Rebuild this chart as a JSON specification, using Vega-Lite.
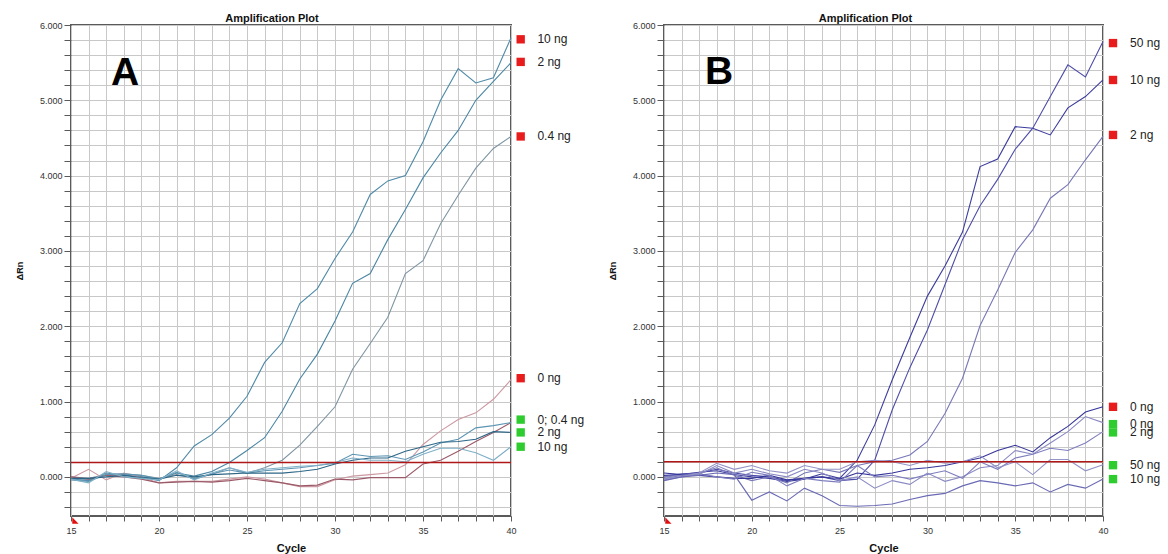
{
  "$schema": "https://vega.github.io/schema/vega-lite/v6.json",
  "background": "white",
  "padding": {"left": 14, "top": 12, "right": 0, "bottom": 0},
  "bounds": "flush",
  "spacing": 153,
  "config": {
    "font": "Liberation Sans",
    "view": {"stroke": "#5a5a5a", "strokeWidth": 2},
    "axis": {
      "domain": false,
      "grid": true,
      "gridColor": "#c8c8c8",
      "gridWidth": 1,
      "tickColor": "#5a5a5a",
      "tickCount": 200,
      "labelFont": "Liberation Sans",
      "labelFontSize": 9,
      "labelColor": "#333333",
      "titleFont": "Liberation Sans",
      "titleFontSize": 11,
      "titleFontWeight": "bold",
      "titleColor": "#111111"
    },
    "title": {"font": "Liberation Sans", "fontSize": 11, "fontWeight": "bold", "color": "#111111", "offset": -3}
  },
  "datasets": {
    "ampA": [
      {"cycle": 15, "A10": -0.03, "A2": -0.02, "A04": 0.0, "A0r": -0.02, "A0g": 0.0, "A04g": -0.04, "A2g": -0.02, "A10g": -0.03},
      {"cycle": 16, "A10": -0.05, "A2": -0.03, "A04": -0.02, "A0r": 0.1, "A0g": -0.03, "A04g": -0.06, "A2g": -0.02, "A10g": -0.08},
      {"cycle": 17, "A10": 0.05, "A2": 0.02, "A04": 0.03, "A0r": -0.04, "A0g": 0.02, "A04g": 0.03, "A2g": 0.0, "A10g": 0.07},
      {"cycle": 18, "A10": 0.02, "A2": 0.03, "A04": 0.04, "A0r": 0.05, "A0g": 0.0, "A04g": 0.04, "A2g": 0.02, "A10g": 0.0},
      {"cycle": 19, "A10": 0.0, "A2": 0.0, "A04": 0.02, "A0r": -0.01, "A0g": -0.03, "A04g": 0.02, "A2g": -0.01, "A10g": -0.02},
      {"cycle": 20, "A10": -0.05, "A2": -0.03, "A04": -0.02, "A0r": -0.08, "A0g": -0.08, "A04g": -0.03, "A2g": -0.03, "A10g": -0.04},
      {"cycle": 21, "A10": 0.12, "A2": 0.05, "A04": 0.03, "A0r": -0.06, "A0g": -0.07, "A04g": 0.06, "A2g": 0.02, "A10g": 0.08},
      {"cycle": 22, "A10": 0.41, "A2": 0.01, "A04": -0.02, "A0r": -0.06, "A0g": -0.06, "A04g": -0.03, "A2g": 0.0, "A10g": -0.04},
      {"cycle": 23, "A10": 0.56, "A2": 0.07, "A04": 0.03, "A0r": -0.06, "A0g": -0.07, "A04g": 0.04, "A2g": 0.03, "A10g": 0.05},
      {"cycle": 24, "A10": 0.78, "A2": 0.19, "A04": 0.12, "A0r": -0.03, "A0g": -0.05, "A04g": 0.09, "A2g": 0.04, "A10g": 0.12},
      {"cycle": 25, "A10": 1.07, "A2": 0.35, "A04": 0.05, "A0r": 0.0, "A0g": -0.02, "A04g": 0.05, "A2g": 0.05, "A10g": 0.06},
      {"cycle": 26, "A10": 1.52, "A2": 0.52, "A04": 0.12, "A0r": -0.03, "A0g": -0.05, "A04g": 0.08, "A2g": 0.05, "A10g": 0.1},
      {"cycle": 27, "A10": 1.78, "A2": 0.87, "A04": 0.22, "A0r": -0.08, "A0g": -0.08, "A04g": 0.1, "A2g": 0.05, "A10g": 0.12},
      {"cycle": 28, "A10": 2.3, "A2": 1.3, "A04": 0.42, "A0r": -0.13, "A0g": -0.12, "A04g": 0.12, "A2g": 0.07, "A10g": 0.14},
      {"cycle": 29, "A10": 2.5, "A2": 1.63, "A04": 0.67, "A0r": -0.13, "A0g": -0.11, "A04g": 0.15, "A2g": 0.1, "A10g": 0.15},
      {"cycle": 30, "A10": 2.9, "A2": 2.07, "A04": 0.93, "A0r": -0.04, "A0g": -0.03, "A04g": 0.18, "A2g": 0.17, "A10g": 0.19},
      {"cycle": 31, "A10": 3.25, "A2": 2.57, "A04": 1.43, "A0r": 0.01, "A0g": -0.04, "A04g": 0.3, "A2g": 0.22, "A10g": 0.25},
      {"cycle": 32, "A10": 3.75, "A2": 2.7, "A04": 1.77, "A0r": 0.03, "A0g": -0.01, "A04g": 0.27, "A2g": 0.25, "A10g": 0.22},
      {"cycle": 33, "A10": 3.93, "A2": 3.15, "A04": 2.12, "A0r": 0.05, "A0g": -0.01, "A04g": 0.28, "A2g": 0.25, "A10g": 0.22},
      {"cycle": 34, "A10": 4.0, "A2": 3.55, "A04": 2.7, "A0r": 0.16, "A0g": -0.01, "A04g": 0.23, "A2g": 0.34, "A10g": 0.2},
      {"cycle": 35, "A10": 4.45, "A2": 3.97, "A04": 2.87, "A0r": 0.43, "A0g": 0.17, "A04g": 0.33, "A2g": 0.4, "A10g": 0.3},
      {"cycle": 36, "A10": 5.0, "A2": 4.3, "A04": 3.36, "A0r": 0.61, "A0g": 0.22, "A04g": 0.45, "A2g": 0.46, "A10g": 0.38},
      {"cycle": 37, "A10": 5.42, "A2": 4.6, "A04": 3.74, "A0r": 0.76, "A0g": 0.34, "A04g": 0.5, "A2g": 0.47, "A10g": 0.38},
      {"cycle": 38, "A10": 5.23, "A2": 5.0, "A04": 4.1, "A0r": 0.85, "A0g": 0.47, "A04g": 0.65, "A2g": 0.5, "A10g": 0.32},
      {"cycle": 39, "A10": 5.3, "A2": 5.25, "A04": 4.36, "A0r": 1.03, "A0g": 0.59, "A04g": 0.68, "A2g": 0.6, "A10g": 0.22},
      {"cycle": 40, "A10": 5.83, "A2": 5.5, "A04": 4.52, "A0r": 1.29, "A0g": 0.72, "A04g": 0.72, "A2g": 0.59, "A10g": 0.4}
    ],
    "ampB": [
      {"cycle": 15, "B10": 0.02, "B50": 0.0, "B2": -0.03, "B0r": 0.05, "B0g": -0.02, "B2g": 0.0, "B50g": -0.04, "B10g": -0.05},
      {"cycle": 16, "B10": 0.03, "B50": 0.04, "B2": 0.02, "B0r": 0.03, "B0g": 0.0, "B2g": 0.02, "B50g": 0.0, "B10g": 0.0},
      {"cycle": 17, "B10": 0.06, "B50": 0.05, "B2": 0.05, "B0r": 0.02, "B0g": 0.03, "B2g": 0.04, "B50g": 0.05, "B10g": 0.02},
      {"cycle": 18, "B10": 0.08, "B50": 0.1, "B2": 0.12, "B0r": 0.0, "B0g": 0.15, "B2g": 0.0, "B50g": 0.18, "B10g": 0.05},
      {"cycle": 19, "B10": 0.03, "B50": 0.05, "B2": 0.02, "B0r": -0.02, "B0g": 0.05, "B2g": -0.03, "B50g": 0.1, "B10g": 0.03},
      {"cycle": 20, "B10": 0.0, "B50": 0.02, "B2": -0.05, "B0r": -0.02, "B0g": 0.1, "B2g": 0.06, "B50g": 0.15, "B10g": -0.31},
      {"cycle": 21, "B10": -0.02, "B50": 0.0, "B2": 0.0, "B0r": 0.02, "B0g": 0.04, "B2g": 0.02, "B50g": 0.08, "B10g": -0.2},
      {"cycle": 22, "B10": -0.06, "B50": -0.05, "B2": -0.08, "B0r": -0.04, "B0g": 0.0, "B2g": -0.12, "B50g": 0.05, "B10g": -0.32},
      {"cycle": 23, "B10": -0.03, "B50": -0.02, "B2": 0.05, "B0r": -0.02, "B0g": 0.1, "B2g": -0.02, "B50g": 0.15, "B10g": -0.15},
      {"cycle": 24, "B10": 0.04, "B50": 0.0, "B2": 0.1, "B0r": 0.0, "B0g": 0.05, "B2g": -0.05, "B50g": 0.1, "B10g": -0.25},
      {"cycle": 25, "B10": -0.02, "B50": -0.05, "B2": 0.06, "B0r": -0.03, "B0g": -0.05, "B2g": -0.07, "B50g": 0.1, "B10g": -0.38},
      {"cycle": 26, "B10": 0.22, "B50": -0.03, "B2": 0.15, "B0r": 0.05, "B0g": 0.0, "B2g": 0.15, "B50g": 0.2, "B10g": -0.39},
      {"cycle": 27, "B10": 0.69, "B50": 0.22, "B2": 0.2, "B0r": 0.02, "B0g": -0.15, "B2g": 0.0, "B50g": 0.22, "B10g": -0.38},
      {"cycle": 28, "B10": 1.29, "B50": 0.89, "B2": 0.22, "B0r": 0.05, "B0g": -0.05, "B2g": 0.02, "B50g": 0.2, "B10g": -0.36},
      {"cycle": 29, "B10": 1.85, "B50": 1.45, "B2": 0.29, "B0r": 0.1, "B0g": -0.1, "B2g": -0.03, "B50g": 0.15, "B10g": -0.3},
      {"cycle": 30, "B10": 2.4, "B50": 1.95, "B2": 0.47, "B0r": 0.12, "B0g": 0.05, "B2g": 0.03, "B50g": 0.22, "B10g": -0.25},
      {"cycle": 31, "B10": 2.8, "B50": 2.55, "B2": 0.84, "B0r": 0.15, "B0g": -0.06, "B2g": 0.08, "B50g": 0.18, "B10g": -0.22},
      {"cycle": 32, "B10": 3.25, "B50": 3.15, "B2": 1.31, "B0r": 0.2, "B0g": 0.0, "B2g": -0.02, "B50g": 0.2, "B10g": -0.12},
      {"cycle": 33, "B10": 4.12, "B50": 3.6, "B2": 2.01, "B0r": 0.25, "B0g": 0.12, "B2g": 0.2, "B50g": 0.28, "B10g": -0.05},
      {"cycle": 34, "B10": 4.22, "B50": 3.95, "B2": 2.48, "B0r": 0.35, "B0g": 0.15, "B2g": 0.1, "B50g": 0.12, "B10g": -0.08},
      {"cycle": 35, "B10": 4.65, "B50": 4.35, "B2": 2.98, "B0r": 0.42, "B0g": 0.35, "B2g": 0.25, "B50g": 0.2, "B10g": -0.12},
      {"cycle": 36, "B10": 4.63, "B50": 4.63, "B2": 3.28, "B0r": 0.33, "B0g": 0.3, "B2g": 0.3, "B50g": 0.03, "B10g": -0.08},
      {"cycle": 37, "B10": 4.54, "B50": 5.05, "B2": 3.7, "B0r": 0.52, "B0g": 0.45, "B2g": 0.38, "B50g": 0.23, "B10g": -0.2},
      {"cycle": 38, "B10": 4.9, "B50": 5.47, "B2": 3.88, "B0r": 0.67, "B0g": 0.6, "B2g": 0.35, "B50g": 0.23, "B10g": -0.1},
      {"cycle": 39, "B10": 5.05, "B50": 5.31, "B2": 4.21, "B0r": 0.86, "B0g": 0.8, "B2g": 0.45, "B50g": 0.08, "B10g": -0.15},
      {"cycle": 40, "B10": 5.27, "B50": 5.78, "B2": 4.52, "B0r": 0.93, "B0g": 0.72, "B2g": 0.6, "B50g": 0.16, "B10g": -0.03}
    ],
    "labA": [
      {"label": "10 ng", "dRn": 5.81, "call": "amplified"},
      {"label": "2 ng", "dRn": 5.51, "call": "amplified"},
      {"label": "0.4 ng", "dRn": 4.52, "call": "amplified"},
      {"label": "0 ng", "dRn": 1.31, "call": "amplified"},
      {"label": "0; 0.4 ng", "dRn": 0.76, "call": "not amplified"},
      {"label": "2 ng", "dRn": 0.59, "call": "not amplified"},
      {"label": "10 ng", "dRn": 0.40, "call": "not amplified"}
    ],
    "labB": [
      {"label": "50 ng", "dRn": 5.76, "call": "amplified"},
      {"label": "10 ng", "dRn": 5.27, "call": "amplified"},
      {"label": "2 ng", "dRn": 4.54, "call": "amplified"},
      {"label": "0 ng", "dRn": 0.93, "call": "amplified"},
      {"label": "0 ng", "dRn": 0.70, "call": "not amplified"},
      {"label": "2 ng", "dRn": 0.59, "call": "not amplified"},
      {"label": "50 ng", "dRn": 0.155, "call": "not amplified"},
      {"label": "10 ng", "dRn": -0.03, "call": "not amplified"}
    ]
  },
  "hconcat": [
    {
      "width": 440,
      "height": 491,
      "title": {"text": "Amplification Plot", "dx": -19},
      "resolve": {"scale": {"color": "independent"}},
      "layer": [
        {
          "data": {"name": "ampA"},
          "transform": [{"fold": ["A10", "A2", "A04", "A0r", "A0g", "A04g", "A2g", "A10g"], "as": ["well", "dRn"]}],
          "mark": {"type": "line", "strokeWidth": 1.1},
          "encoding": {
            "x": {
              "field": "cycle", "type": "quantitative",
              "scale": {"domain": [15, 40], "nice": false, "zero": false},
              "axis": {
                "title": "Cycle",
                "values": [15, 16, 17, 18, 19, 20, 21, 22, 23, 24, 25, 26, 27, 28, 29, 30, 31, 32, 33, 34, 35, 36, 37, 38, 39, 40],
                "labelExpr": "datum.value % 5 === 0 ? datum.label : ''",
                "format": "d",
                "labelFlush": false,
                "labelOverlap": false,
                "tickSize": 5,
                "labelPadding": 5,
                "titlePadding": 7
              }
            },
            "y": {
              "field": "dRn", "type": "quantitative",
              "scale": {"domain": [-0.52, 6], "nice": false, "zero": false},
              "axis": {
                "title": "ΔRn",
                "titleFontSize": 9,
                "values": [-0.4, -0.2, 0, 0.2, 0.4, 0.6, 0.8, 1, 1.2, 1.4, 1.6, 1.8, 2, 2.2, 2.4, 2.6, 2.8, 3, 3.2, 3.4, 3.6, 3.8, 4, 4.2, 4.4, 4.6, 4.8, 5, 5.2, 5.4, 5.6, 5.8, 6],
                "labelExpr": "abs(datum.value - round(datum.value)) < 0.001 ? format(datum.value, '.3f') : ''",
                "labelOverlap": false,
                "tickSize": 7,
                "labelPadding": 2,
                "titlePadding": 15
              }
            },
            "color": {
              "field": "well", "type": "nominal", "legend": null,
              "scale": {
                "domain": ["A10", "A2", "A04", "A0r", "A0g", "A04g", "A2g", "A10g"],
                "range": ["#4f8aa8", "#4a86a3", "#7f95a3", "#cc98a2", "#9b5a68", "#5d95b3", "#2c6586", "#7fb0c8"]
              }
            }
          }
        },
        {
          "data": {"values": [{"threshold": 0.19}]},
          "mark": {"type": "rule", "color": "#b01818", "strokeWidth": 1.5},
          "encoding": {"y": {"field": "threshold", "type": "quantitative"}}
        },
        {
          "data": {"name": "labA"},
          "mark": {"type": "point", "shape": "square", "filled": true, "size": 70, "opacity": 1, "clip": false},
          "encoding": {
            "x": {"datum": 40.55},
            "y": {"field": "dRn", "type": "quantitative"},
            "color": {"field": "call", "type": "nominal", "legend": null, "scale": {"domain": ["amplified", "not amplified"], "range": ["#e81c1c", "#2fcc2f"]}}
          }
        },
        {
          "data": {"name": "labA"},
          "mark": {"type": "text", "align": "left", "baseline": "middle", "fontSize": 12, "color": "#222222", "clip": false},
          "encoding": {
            "x": {"datum": 41.5},
            "y": {"field": "dRn", "type": "quantitative"},
            "text": {"field": "label"}
          }
        },
        {
          "data": {"values": [{"panel": "A"}]},
          "mark": {"type": "text", "fontSize": 39, "fontWeight": "bold", "color": "#000000", "align": "center", "baseline": "middle"},
          "encoding": {"x": {"datum": 18.07}, "y": {"datum": 5.36}, "text": {"field": "panel"}}
        },
        {
          "data": {"values": [{"marker": "start"}]},
          "mark": {"type": "point", "shape": "M -1 -1 L 1 1 L -1 1 Z", "filled": true, "size": 40, "color": "#e01010", "opacity": 1, "clip": false},
          "encoding": {"x": {"datum": 15.25}, "y": {"datum": -0.58}}
        }
      ]
    },
    {
      "width": 439,
      "height": 491,
      "title": {"text": "Amplification Plot", "dx": -18},
      "resolve": {"scale": {"color": "independent"}},
      "layer": [
        {
          "data": {"name": "ampB"},
          "transform": [{"fold": ["B10", "B50", "B2", "B0r", "B0g", "B2g", "B50g", "B10g"], "as": ["well", "dRn"]}],
          "mark": {"type": "line", "strokeWidth": 1.1},
          "encoding": {
            "x": {
              "field": "cycle", "type": "quantitative",
              "scale": {"domain": [15, 40], "nice": false, "zero": false},
              "axis": {
                "title": "Cycle",
                "values": [15, 16, 17, 18, 19, 20, 21, 22, 23, 24, 25, 26, 27, 28, 29, 30, 31, 32, 33, 34, 35, 36, 37, 38, 39, 40],
                "labelExpr": "datum.value % 5 === 0 ? datum.label : ''",
                "format": "d",
                "labelFlush": false,
                "labelOverlap": false,
                "tickSize": 5,
                "labelPadding": 5,
                "titlePadding": 7
              }
            },
            "y": {
              "field": "dRn", "type": "quantitative",
              "scale": {"domain": [-0.52, 6], "nice": false, "zero": false},
              "axis": {
                "title": "ΔRn",
                "titleFontSize": 9,
                "values": [-0.4, -0.2, 0, 0.2, 0.4, 0.6, 0.8, 1, 1.2, 1.4, 1.6, 1.8, 2, 2.2, 2.4, 2.6, 2.8, 3, 3.2, 3.4, 3.6, 3.8, 4, 4.2, 4.4, 4.6, 4.8, 5, 5.2, 5.4, 5.6, 5.8, 6],
                "labelExpr": "abs(datum.value - round(datum.value)) < 0.001 ? format(datum.value, '.3f') : ''",
                "labelOverlap": false,
                "tickSize": 7,
                "labelPadding": 2,
                "titlePadding": 15
              }
            },
            "color": {
              "field": "well", "type": "nominal", "legend": null,
              "scale": {
                "domain": ["B10", "B50", "B2", "B0r", "B0g", "B2g", "B50g", "B10g"],
                "range": ["#3b3b9e", "#4d4daa", "#7777b8", "#35359a", "#8a8ac4", "#7e7ebf", "#9494c8", "#6a6ab5"]
              }
            }
          }
        },
        {
          "data": {"values": [{"threshold": 0.2}]},
          "mark": {"type": "rule", "color": "#b01818", "strokeWidth": 1.5},
          "encoding": {"y": {"field": "threshold", "type": "quantitative"}}
        },
        {
          "data": {"name": "labB"},
          "mark": {"type": "point", "shape": "square", "filled": true, "size": 70, "opacity": 1, "clip": false},
          "encoding": {
            "x": {"datum": 40.57},
            "y": {"field": "dRn", "type": "quantitative"},
            "color": {"field": "call", "type": "nominal", "legend": null, "scale": {"domain": ["amplified", "not amplified"], "range": ["#e81c1c", "#2fcc2f"]}}
          }
        },
        {
          "data": {"name": "labB"},
          "mark": {"type": "text", "align": "left", "baseline": "middle", "fontSize": 12, "color": "#222222", "clip": false},
          "encoding": {
            "x": {"datum": 41.54},
            "y": {"field": "dRn", "type": "quantitative"},
            "text": {"field": "label"}
          }
        },
        {
          "data": {"values": [{"panel": "B"}]},
          "mark": {"type": "text", "fontSize": 39, "fontWeight": "bold", "color": "#000000", "align": "center", "baseline": "middle"},
          "encoding": {"x": {"datum": 18.13}, "y": {"datum": 5.38}, "text": {"field": "panel"}}
        },
        {
          "data": {"values": [{"marker": "start"}]},
          "mark": {"type": "point", "shape": "M -1 -1 L 1 1 L -1 1 Z", "filled": true, "size": 40, "color": "#e01010", "opacity": 1, "clip": false},
          "encoding": {"x": {"datum": 15.25}, "y": {"datum": -0.58}}
        }
      ]
    }
  ]
}
